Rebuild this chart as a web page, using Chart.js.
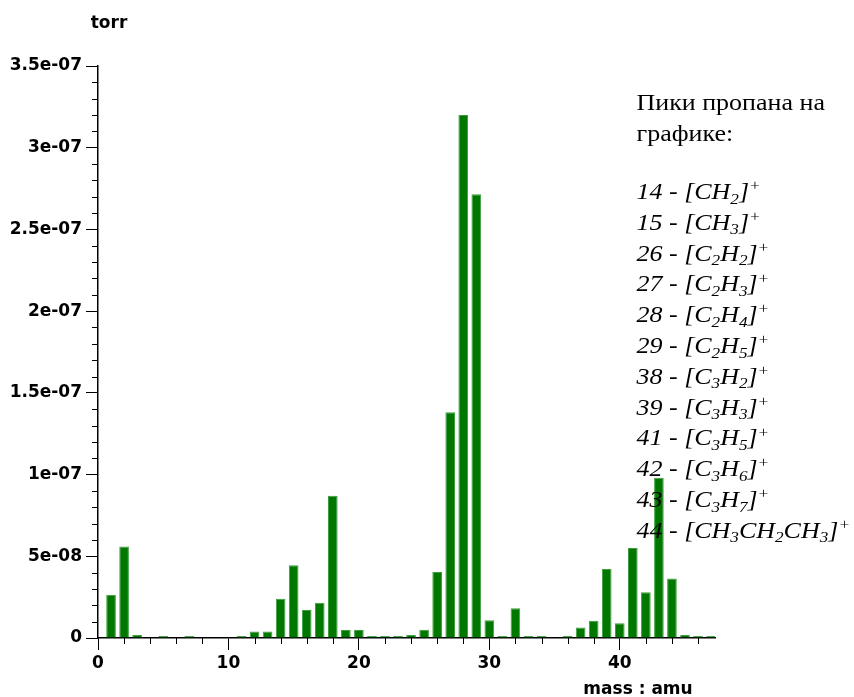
<!DOCTYPE html>
<html>
<head>
<meta charset="utf-8">
<script src="https://cdn.jsdelivr.net/npm/chart.js@4"></script>
<style>
  html, body { margin: 0; padding: 0; background: #fff; }
  canvas { display: block; }
</style>
</head>
<body>
<canvas id="chart" width="854" height="697"></canvas>
<script>
// mass spectrum of propane, partial pressure per mass number
const masses = [
  1, 2, 3, 4, 5, 6, 7, 8, 9, 10,
  11, 12, 13, 14, 15, 16, 17, 18, 19, 20,
  21, 22, 23, 24, 25, 26, 27, 28, 29, 30,
  31, 32, 33, 34, 35, 36, 37, 38, 39, 40,
  41, 42, 43, 44, 45, 46, 47
];
const pressures = [
  2.65e-8, 5.6e-8, 1.8e-9, 0, 1.2e-9, 0, 1.2e-9, 0, 0, 0,
  1.2e-9, 4e-9, 4e-9, 2.4e-8, 4.45e-8, 1.72e-8, 2.15e-8, 8.7e-8, 4.9e-9, 4.9e-9,
  1.2e-9, 1.2e-9, 1.2e-9, 1.8e-9, 5e-9, 4.04e-8, 1.382e-7, 3.2e-7, 2.715e-7, 1.08e-8,
  1.2e-9, 1.82e-8, 1.2e-9, 1.2e-9, 0, 1.2e-9, 6.5e-9, 1.06e-8, 4.22e-8, 9e-9,
  5.5e-8, 2.8e-8, 9.8e-8, 3.64e-8, 1.8e-9, 1.2e-9, 1.2e-9
];

const xMax = 47.3;
const xTickStep = 10;
const xMinorStep = 2;
const yMax = 3.5e-7;
const yTickStep = 5e-8;
const yMinorStep = 1e-8;
const yTickLabels = ["0", "5e-08", "1e-07", "1.5e-07", "2e-07", "2.5e-07", "3e-07", "3.5e-07"];

const yTitle = "torr";
const xTitle = "mass : amu";
const noteHeading = ["Пики пропана на", "графике:"];
// "_" marks a subscript character, "^" a superscript one
const peakLabels = [
  "14 - [CH_2]^+",
  "15 - [CH_3]^+",
  "26 - [C_2H_2]^+",
  "27 - [C_2H_3]^+",
  "28 - [C_2H_4]^+",
  "29 - [C_2H_5]^+",
  "38 - [C_3H_2]^+",
  "39 - [C_3H_3]^+",
  "41 - [C_3H_5]^+",
  "42 - [C_3H_6]^+",
  "43 - [C_3H_7]^+",
  "44 - [CH_3CH_2CH_3]^+"
];

const sansFont = '"DejaVu Sans"';
const serifFont = '"Liberation Serif"';

function drawFormula(ctx, text, x, y, size) {
  let i = 0;
  while (i < text.length) {
    let ch = text[i], dy = 0, fs = size;
    if (ch === "_" || ch === "^") {
      dy = ch === "_" ? size * 0.2 : -size * 0.38;
      fs = size * 0.66;
      ch = text[++i];
    }
    ctx.font = "italic " + fs + "px " + serifFont;
    ctx.fillText(ch, x, y + dy);
    x += ctx.measureText(ch).width;
    i++;
  }
}

// short ticks between the labelled ones
const minorTicks = {
  id: "minorTicks",
  afterDraw(chart) {
    const ctx = chart.ctx;
    const xs = chart.scales.x, ys = chart.scales.y;
    const area = chart.chartArea;
    ctx.save();
    ctx.strokeStyle = "#000";
    ctx.lineWidth = 1;
    ctx.beginPath();
    for (let v = xMinorStep; v < xs.max; v += xMinorStep) {
      if (v % xTickStep === 0) continue;
      const px = Math.round(xs.getPixelForValue(v)) + 0.5;
      ctx.moveTo(px, area.bottom);
      ctx.lineTo(px, area.bottom + 6);
    }
    const n = Math.round(ys.max / yMinorStep);
    const per = Math.round(yTickStep / yMinorStep);
    for (let i = 1; i < n; i++) {
      if (i % per === 0) continue;
      const py = Math.round(ys.getPixelForValue(i * yMinorStep)) + 0.5;
      ctx.moveTo(area.left - 6, py);
      ctx.lineTo(area.left, py);
    }
    ctx.stroke();
    ctx.restore();
  }
};

// axis titles and the list of propane peaks
const textLayer = {
  id: "textLayer",
  afterDraw(chart) {
    const ctx = chart.ctx;
    ctx.save();
    ctx.fillStyle = "#000";
    ctx.textBaseline = "alphabetic";
    ctx.textAlign = "center";
    ctx.font = "bold 17px " + sansFont;
    ctx.fillText(yTitle, 109, 28);
    ctx.fillText(xTitle, 638, 694);

    ctx.textAlign = "left";
    ctx.translate(636.5, 0);
    ctx.scale(1.13, 1);
    ctx.font = "23px " + serifFont;
    noteHeading.forEach((line, i) => ctx.fillText(line, 0, 110 + i * 31));
    peakLabels.forEach((line, i) => drawFormula(ctx, line, 0, 199 + i * 30.8, 23));
    ctx.restore();
  }
};

const tickFont = { family: sansFont, size: 17, weight: "bold" };

new Chart(document.getElementById("chart"), {
  type: "bar",
  data: {
    datasets: [{
      data: masses.map((m, i) => ({ x: m, y: pressures[i] })),
      backgroundColor: "#007800",
      borderColor: "#3c9e3c",
      borderWidth: 1,
      borderSkipped: "start",
      barPercentage: 0.74,
      categoryPercentage: 1
    }]
  },
  options: {
    responsive: false,
    animation: false,
    devicePixelRatio: 1,
    layout: { padding: { top: 66, right: 139, left: 0, bottom: 0 } },
    plugins: { legend: { display: false }, tooltip: { enabled: false } },
    scales: {
      x: {
        type: "linear",
        min: 0,
        max: xMax,
        offset: false,
        grid: { offset: false, drawOnChartArea: false, drawTicks: true, tickLength: 12, tickColor: "#000", tickWidth: 1 },
        border: { color: "#000", width: 1.5 },
        ticks: {
          stepSize: xTickStep,
          includeBounds: false,
          autoSkip: false,
          maxRotation: 0,
          color: "#000",
          font: tickFont,
          padding: 3
        },
        afterFit(scale) { scale.height = 59; }
      },
      y: {
        min: 0,
        max: yMax,
        grid: { drawOnChartArea: false, drawTicks: true, tickLength: 12, tickColor: "#000", tickWidth: 1 },
        border: { color: "#000", width: 1.5 },
        ticks: {
          stepSize: yTickStep,
          color: "#000",
          font: tickFont,
          padding: 4,
          callback: (v) => yTickLabels[Math.round(v / yTickStep)]
        },
        afterFit(scale) { scale.width = 98; }
      }
    }
  },
  plugins: [minorTicks, textLayer]
});
</script>
</body>
</html>
